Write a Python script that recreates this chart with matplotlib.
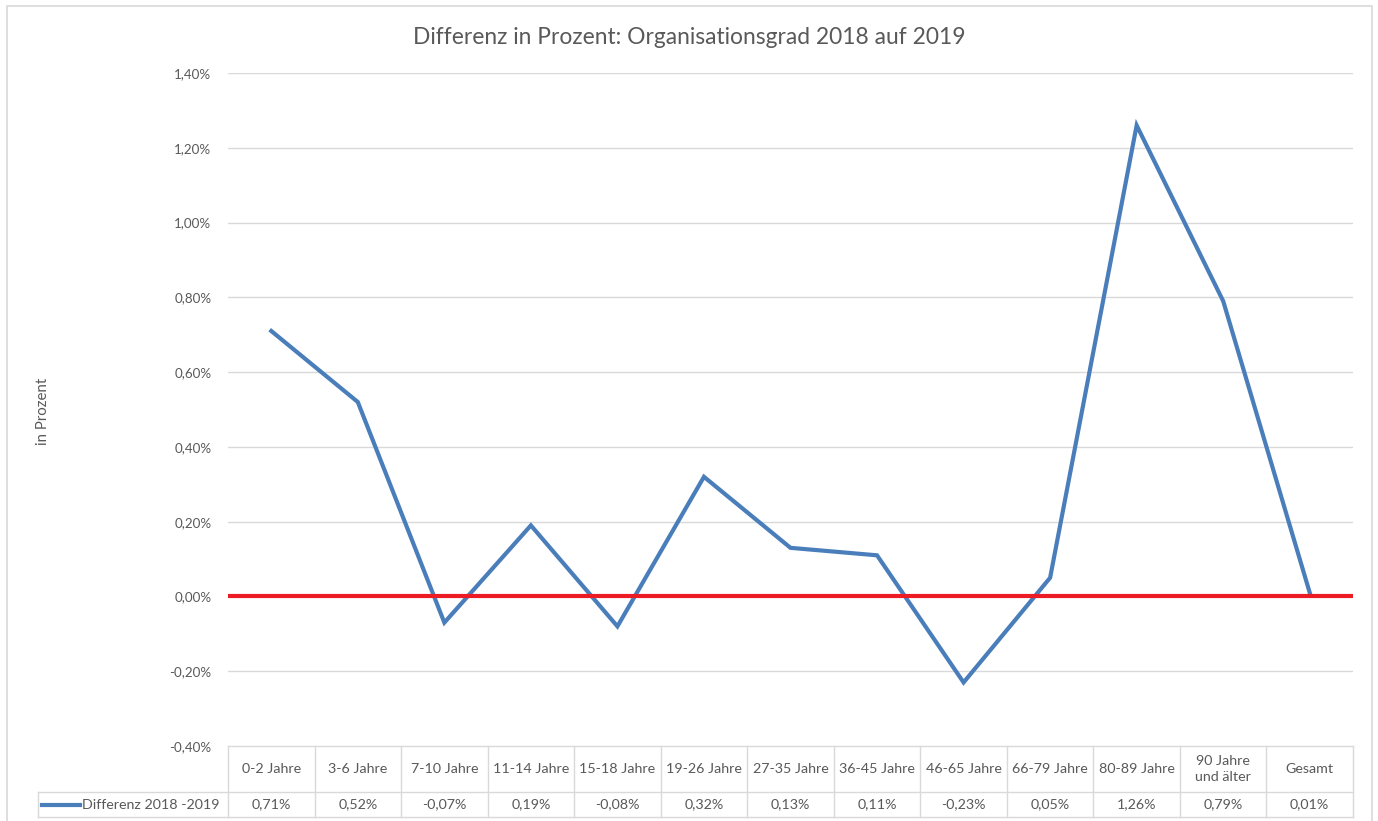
import matplotlib
matplotlib.use("Agg")
import matplotlib.pyplot as plt
from matplotlib.transforms import blended_transform_factory
from matplotlib.lines import Line2D
from matplotlib.patches import Rectangle

plt.rcParams['font.family'] = ['Lato', 'DejaVu Sans']

categories = ["0-2 Jahre", "3-6 Jahre", "7-10 Jahre", "11-14 Jahre", "15-18 Jahre",
              "19-26 Jahre", "27-35 Jahre", "36-45 Jahre", "46-65 Jahre", "66-79 Jahre",
              "80-89 Jahre", "90 Jahre\nund älter", "Gesamt"]
values = [0.0071, 0.0052, -0.0007, 0.0019, -0.0008, 0.0032, 0.0013, 0.0011,
          -0.0023, 0.0005, 0.0126, 0.0079, 0.0001]
value_labels = ["0,71%", "0,52%", "-0,07%", "0,19%", "-0,08%", "0,32%", "0,13%",
                "0,11%", "-0,23%", "0,05%", "1,26%", "0,79%", "0,01%"]
series_name = "Differenz 2018 -2019"
yticks = [-0.004, -0.002, 0.0, 0.002, 0.004, 0.006, 0.008, 0.010, 0.012, 0.014]
ytick_labels = ["-0,40%", "-0,20%", "0,00%", "0,20%", "0,40%", "0,60%", "0,80%",
                "1,00%", "1,20%", "1,40%"]
title = "Differenz in Prozent: Organisationsgrad 2018 auf 2019"
ylabel = "in Prozent"

W, H = 1378, 821
fig = plt.figure(figsize=(W / 100, H / 100), dpi=100)
fig.patch.set_facecolor("white")

# chart area border
fig.add_artist(Rectangle((7 / W, -0.01), (1372 - 7) / W, (H - 6) / H + 0.01,
                         transform=fig.transFigure, fill=False,
                         edgecolor="#d9d9d9", linewidth=1.2))

left, right = 228 / W, 1353 / W
top_px, bot_px = 73, 746
ax = fig.add_axes([left, 1 - bot_px / H, right - left, (bot_px - top_px) / H])
n = len(categories)
ax.set_xlim(-0.5, n - 0.5)
ax.set_ylim(-0.004, 0.014)
ax.set_yticks(yticks)
ax.set_yticklabels(ytick_labels, fontsize=9.6, color="#595959")
ax.set_xticks([])
ax.tick_params(axis="y", length=0, pad=12)
for s in ax.spines.values():
    s.set_visible(False)
for t in yticks[1:]:
    ax.axhline(t, color="#d9d9d9", linewidth=1.0, zorder=0)

x = list(range(n))
ax.plot(x, values, color="#4a7ebb", linewidth=3.0, solid_joinstyle="miter", zorder=3)
ax.axhline(0, color="#ed1c24", linewidth=3.0, zorder=4)

fig.text(0.5, 1 - 38 / H, title, ha="center", va="center", fontsize=16.4, color="#595959")
fig.text(43 / W, 1 - 411 / H, ylabel, rotation=90, ha="center", va="center",
         fontsize=10.8, color="#595959")

# data table
tr = blended_transform_factory(ax.transData, fig.transFigure)
ftr = fig.transFigure
y_top = 1 - 746 / H
y_mid = 1 - 792 / H
y_bot = 1 - 817 / H
gc = "#d9d9d9"
fs_tab = 10.3
fig.add_artist(Line2D([-0.5, n - 0.5], [y_top, y_top], transform=tr, color=gc, lw=1))
fig.add_artist(Line2D([38 / W, right], [y_mid, y_mid], transform=ftr, color=gc, lw=1))
fig.add_artist(Line2D([38 / W, right], [y_bot, y_bot], transform=ftr, color=gc, lw=1))
fig.add_artist(Line2D([38 / W, 38 / W], [y_mid, y_bot], transform=ftr, color=gc, lw=1))
for i in range(n + 1):
    fig.add_artist(Line2D([i - 0.5, i - 0.5], [y_top, y_bot], transform=tr, color=gc, lw=1))
for i in range(n):
    fig.text(i, (y_top + y_mid) / 2, categories[i], transform=tr, ha="center",
             va="center", fontsize=fs_tab, color="#595959", linespacing=1.45)
    fig.text(i, (y_mid + y_bot) / 2, value_labels[i], transform=tr, ha="center",
             va="center", fontsize=fs_tab, color="#595959")
fig.add_artist(Line2D([42 / W, 80 / W], [(y_mid + y_bot) / 2] * 2, transform=ftr,
                      color="#4a7ebb", lw=3.0))
fig.text(82 / W, (y_mid + y_bot) / 2, series_name, ha="left", va="center",
         fontsize=fs_tab, color="#595959")

fig.savefig("out.png", dpi=100, facecolor="white")
